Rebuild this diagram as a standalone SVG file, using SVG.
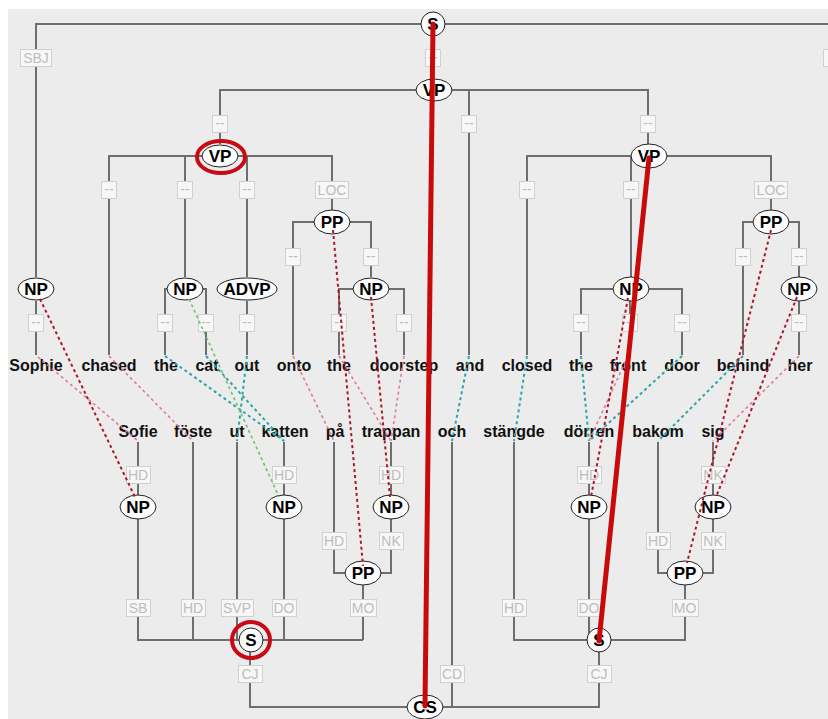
<svg xmlns="http://www.w3.org/2000/svg" width="828" height="719" viewBox="0 0 828 719">
<style>
.bg{fill:#ececec}
.e{stroke:#6e6e6e;stroke-width:2;fill:none}
.lb rect{fill:#f7f7f7;stroke:#d0d0d0;stroke-width:1}
.lb text{fill:#bdbdbd;font-family:"Liberation Sans",Arial,sans-serif;font-size:14px;text-anchor:middle}
.n ellipse{fill:#fbfbfb;stroke:#222;stroke-width:1}
.n text{fill:#000;font-family:"Liberation Sans",Arial,sans-serif;font-size:17px;font-weight:bold;text-anchor:middle}
.w{fill:#111;font-family:"Liberation Sans",Arial,sans-serif;font-size:16px;font-weight:bold;text-anchor:middle}
.pr{stroke:#b0142c;stroke-width:2;stroke-dasharray:3 3;fill:none}
.pk{stroke:#e07a9c;stroke-width:1.6;stroke-dasharray:3 3;fill:none}
.tl{stroke:#2aa6a6;stroke-width:2;stroke-dasharray:3 3;fill:none}
.gr{stroke:#6cc46c;stroke-width:1.6;stroke-dasharray:3 3;fill:none}
.hl{stroke:#c80a0a;stroke-width:5;fill:none;stroke-linecap:round}
.rc{stroke:#c80a14;stroke-width:4;fill:none}
</style>
<rect width="828" height="719" fill="#ffffff"/>
<rect class="bg" x="8" y="9" width="820" height="710"/>

<g id="edges">
<path class="e" d="M36 277V24H828M433 24V90"/>
<path class="e" d="M220 144V90H648V144M469 90V355"/>
<path class="e" d="M109 355V156H332V210M185 156V277M247 156V277"/>
<path class="e" d="M293 355V222H371V277"/>
<path class="e" d="M339 355V289H404V355"/>
<path class="e" d="M36 301V355M247 301V355"/>
<path class="e" d="M165 355V289H206V355"/>
<path class="e" d="M527 355V156H771V210M631 156V277"/>
<path class="e" d="M743 355V222H799V277"/>
<path class="e" d="M581 355V289H682V355M630 301V355M799 301V355"/>
<path class="e" d="M138 442V640H363M193 442V640M237 442V640M284 442V640"/>
<path class="e" d="M334 442V573H391V442M363 573V640"/>
<path class="e" d="M250 640V707H599V640M452 442V707"/>
<path class="e" d="M514 442V640H685V573M589 442V640"/>
<path class="e" d="M658 442V573H713V442"/>
</g>

<g id="edge-labels" class="lb">
<rect x="20.5" y="49.5" width="31" height="17"/><text x="36" y="63">SBJ</text>
<rect x="425.5" y="49.5" width="15" height="17"/><text x="433" y="62">--</text>
<rect x="823.5" y="49.5" width="15" height="17"/>
<rect x="212.5" y="115.5" width="15" height="17"/><text x="220" y="128">--</text>
<rect x="461.5" y="115.5" width="15" height="17"/><text x="469" y="128">--</text>
<rect x="640.5" y="115.5" width="15" height="17"/><text x="648" y="128">--</text>
<rect x="101.5" y="181.5" width="15" height="17"/><text x="109" y="194">--</text>
<rect x="177.5" y="181.5" width="15" height="17"/><text x="185" y="194">--</text>
<rect x="239.5" y="181.5" width="15" height="17"/><text x="247" y="194">--</text>
<rect x="315.5" y="181.5" width="33" height="17"/><text x="332" y="195">LOC</text>
<rect x="519.5" y="181.5" width="15" height="17"/><text x="527" y="194">--</text>
<rect x="623.5" y="181.5" width="15" height="17"/><text x="631" y="194">--</text>
<rect x="754.5" y="181.5" width="33" height="17"/><text x="771" y="195">LOC</text>
<rect x="285.5" y="248.5" width="15" height="17"/><text x="293" y="261">--</text>
<rect x="363.5" y="248.5" width="15" height="17"/><text x="371" y="261">--</text>
<rect x="735.5" y="248.5" width="15" height="17"/><text x="743" y="261">--</text>
<rect x="791.5" y="248.5" width="15" height="17"/><text x="799" y="261">--</text>
<rect x="28.5" y="314.5" width="15" height="17"/><text x="36" y="327">--</text>
<rect x="157.5" y="314.5" width="15" height="17"/><text x="165" y="327">--</text>
<rect x="198.5" y="314.5" width="15" height="17"/><text x="206" y="327">--</text>
<rect x="239.5" y="314.5" width="15" height="17"/><text x="247" y="327">--</text>
<rect x="331.5" y="314.5" width="15" height="17"/><text x="339" y="327">--</text>
<rect x="396.5" y="314.5" width="15" height="17"/><text x="404" y="327">--</text>
<rect x="573.5" y="314.5" width="15" height="17"/><text x="581" y="327">--</text>
<rect x="622.5" y="314.5" width="15" height="17"/><text x="630" y="327">--</text>
<rect x="674.5" y="314.5" width="15" height="17"/><text x="682" y="327">--</text>
<rect x="791.5" y="314.5" width="15" height="17"/><text x="799" y="327">--</text>
<rect x="126.5" y="466.5" width="24" height="17"/><text x="138" y="480">HD</text>
<rect x="272.5" y="466.5" width="24" height="17"/><text x="284" y="480">HD</text>
<rect x="379.5" y="466.5" width="24" height="17"/><text x="391" y="480">HD</text>
<rect x="577.5" y="466.5" width="24" height="17"/><text x="589" y="480">HD</text>
<rect x="701.5" y="466.5" width="24" height="17"/><text x="713" y="480">NK</text>
<rect x="322.5" y="532.5" width="24" height="17"/><text x="334" y="546">HD</text>
<rect x="379.5" y="532.5" width="24" height="17"/><text x="391" y="546">NK</text>
<rect x="646.5" y="532.5" width="24" height="17"/><text x="658" y="546">HD</text>
<rect x="701.5" y="532.5" width="24" height="17"/><text x="713" y="546">NK</text>
<rect x="126.5" y="599.5" width="24" height="17"/><text x="138" y="613">SB</text>
<rect x="181.5" y="599.5" width="24" height="17"/><text x="193" y="613">HD</text>
<rect x="221.5" y="599.5" width="32" height="17"/><text x="237" y="613">SVP</text>
<rect x="272.5" y="599.5" width="24" height="17"/><text x="284" y="613">DO</text>
<rect x="350.5" y="599.5" width="26" height="17"/><text x="363" y="613">MO</text>
<rect x="502.5" y="599.5" width="24" height="17"/><text x="514" y="613">HD</text>
<rect x="577.5" y="599.5" width="24" height="17"/><text x="589" y="613">DO</text>
<rect x="672.5" y="599.5" width="26" height="17"/><text x="685" y="613">MO</text>
<rect x="238.5" y="665.5" width="24" height="17"/><text x="250" y="679">CJ</text>
<rect x="440.5" y="665.5" width="24" height="17"/><text x="452" y="679">CD</text>
<rect x="587.5" y="665.5" width="24" height="17"/><text x="599" y="679">CJ</text>
</g>

<g id="words-en">
<text class="w" x="36" y="371">Sophie</text>
<text class="w" x="109" y="371">chased</text>
<text class="w" x="166" y="371">the</text>
<text class="w" x="207" y="371">cat</text>
<text class="w" x="247" y="371">out</text>
<text class="w" x="294" y="371">onto</text>
<text class="w" x="339" y="371">the</text>
<text class="w" x="404" y="371">doorstep</text>
<text class="w" x="470" y="371">and</text>
<text class="w" x="527" y="371">closed</text>
<text class="w" x="581" y="371">the</text>
<text class="w" x="628" y="371">front</text>
<text class="w" x="682" y="371">door</text>
<text class="w" x="743" y="371">behind</text>
<text class="w" x="800" y="371">her</text>
</g>
<g id="words-sv">
<text class="w" x="138" y="437">Sofie</text>
<text class="w" x="193" y="437">föste</text>
<text class="w" x="237" y="437">ut</text>
<text class="w" x="285" y="437">katten</text>
<text class="w" x="335" y="437">på</text>
<text class="w" x="391" y="437">trappan</text>
<text class="w" x="452" y="437">och</text>
<text class="w" x="514" y="437">stängde</text>
<text class="w" x="589" y="437">dörren</text>
<text class="w" x="658" y="437">bakom</text>
<text class="w" x="713" y="437">sig</text>
</g>

<g id="n-S-en" class="n"><ellipse cx="433" cy="24" rx="12" ry="12"/><text x="433" y="30">S</text></g>
<g id="n-VP-top" class="n"><ellipse cx="434" cy="90" rx="18" ry="11"/><text x="434" y="96">VP</text></g>
<g id="n-VP-left" class="n"><ellipse cx="220" cy="156" rx="18" ry="11"/><text x="220" y="162">VP</text></g>
<g id="n-VP-right" class="n"><ellipse cx="649" cy="156" rx="18" ry="12"/><text x="649" y="162">VP</text></g>
<g id="n-PP-en1" class="n"><ellipse cx="332" cy="222" rx="18" ry="12"/><text x="332" y="228">PP</text></g>
<g id="n-PP-en2" class="n"><ellipse cx="771" cy="222" rx="18" ry="12"/><text x="771" y="228">PP</text></g>
<g id="n-NP-en1" class="n"><ellipse cx="36" cy="289" rx="18" ry="11"/><text x="36" y="295">NP</text></g>
<g id="n-NP-en2" class="n"><ellipse cx="185" cy="289" rx="18" ry="11"/><text x="185" y="295">NP</text></g>
<g id="n-ADVP" class="n"><ellipse cx="247" cy="289" rx="30" ry="11"/><text x="247" y="295">ADVP</text></g>
<g id="n-NP-en3" class="n"><ellipse cx="371" cy="289" rx="18" ry="11"/><text x="371" y="295">NP</text></g>
<g id="n-NP-en4" class="n"><ellipse cx="631" cy="289" rx="18" ry="12"/><text x="631" y="295">NP</text></g>
<g id="n-NP-en5" class="n"><ellipse cx="799" cy="289" rx="18" ry="12"/><text x="799" y="295">NP</text></g>

<g id="n-NP-sv1" class="n"><ellipse cx="138" cy="507" rx="18" ry="12"/><text x="138" y="513">NP</text></g>
<g id="n-NP-sv2" class="n"><ellipse cx="284" cy="507" rx="18" ry="12"/><text x="284" y="513">NP</text></g>
<g id="n-NP-sv3" class="n"><ellipse cx="391" cy="507" rx="18" ry="12"/><text x="391" y="513">NP</text></g>
<g id="n-PP-sv1" class="n"><ellipse cx="363" cy="573" rx="18" ry="12"/><text x="363" y="579">PP</text></g>
<g id="n-S-sv1" class="n"><ellipse cx="251" cy="640" rx="12" ry="12"/><text x="251" y="646">S</text></g>
<g id="n-NP-sv4" class="n"><ellipse cx="589" cy="507" rx="18" ry="12"/><text x="589" y="513">NP</text></g>
<g id="n-NP-sv5" class="n"><ellipse cx="713" cy="507" rx="18" ry="12"/><text x="713" y="513">NP</text></g>
<g id="n-PP-sv2" class="n"><ellipse cx="685" cy="573" rx="18" ry="12"/><text x="685" y="579">PP</text></g>
<g id="n-S-sv2" class="n"><ellipse cx="599" cy="640" rx="12" ry="12"/><text x="599" y="646">S</text></g>
<g id="n-CS" class="n"><ellipse cx="425" cy="707" rx="18" ry="12"/><text x="425" y="713">CS</text></g>

<g id="alignments">
<path class="pk" d="M38 357L138 441"/>
<path class="pk" d="M109 356L193 441"/>
<path class="tl" d="M165 356L284 441"/>
<path class="tl" d="M206 356L284 441"/>
<path class="tl" d="M247 356L237 441"/>
<path class="pk" d="M293 356L334 441"/>
<path class="pk" d="M339 356L391 441"/>
<path class="pk" d="M404 356L391 441"/>
<path class="tl" d="M469 356L452 441"/>
<path class="tl" d="M527 356L514 441"/>
<path class="tl" d="M581 356L589 441"/>
<path class="pk" d="M628 356L589 441"/>
<path class="tl" d="M682 356L589 441"/>
<path class="tl" d="M743 356L658 441"/>
<path class="pk" d="M799 356L713 441"/>
<path class="pr" d="M40 299L135 497"/>
<path class="gr" d="M189 299L279 497"/>
<path class="pr" d="M333 230L363 566"/>
<path class="pr" d="M371 297L390 497"/>
<path class="pr" d="M628 298L591 497"/>
<path class="pr" d="M771 230L687 563"/>
<path class="pr" d="M797 297L716 497"/>
<path class="hl" d="M433 24L425 706"/>
<path class="hl" d="M649 158L599 641"/>
<ellipse class="rc" cx="221" cy="157" rx="24" ry="16"/>
<ellipse class="rc" cx="251" cy="640" rx="19" ry="18"/>
</g>
</svg>
